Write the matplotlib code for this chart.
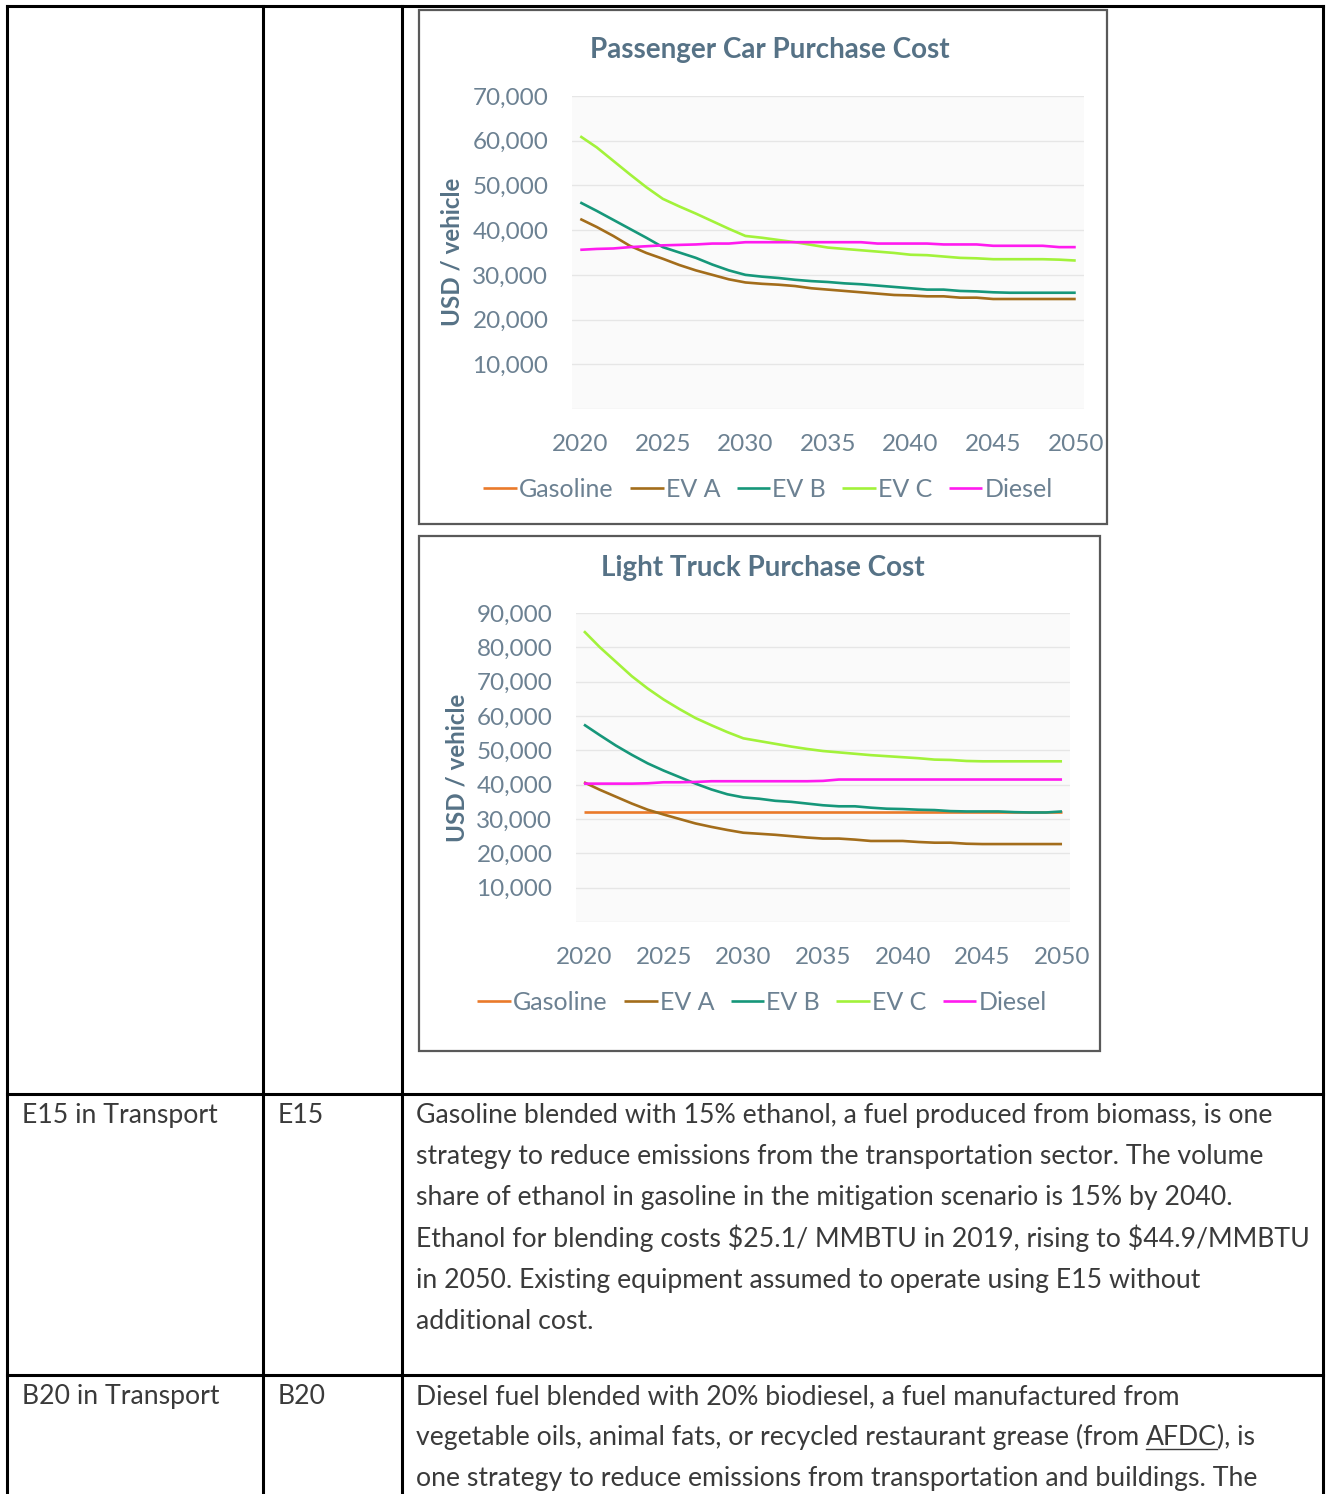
import matplotlib.pyplot as plt
from matplotlib.patches import Rectangle
from matplotlib.lines import Line2D
from matplotlib.ticker import FuncFormatter

W, H = 1329, 1494

years = list(range(2020, 2051))
series_names = ['Gasoline', 'EV A', 'EV B', 'EV C', 'Diesel']

# Passenger car purchase cost (USD / vehicle) - gasoline line is not visible in the source
pc_gasoline = []
pc_ev_a = [42500, 40700, 38700, 36500, 34900, 33600, 32200, 31000, 30000, 29000,
           28300, 28000, 27800, 27500, 27000, 26700, 26400, 26100, 25800, 25500,
           25400, 25200, 25200, 24900, 24900, 24600, 24600, 24600, 24600, 24600, 24600]
pc_ev_b = [46200, 44300, 42300, 40300, 38300, 36200, 35000, 33800, 32300, 31000,
           30000, 29600, 29300, 28900, 28600, 28400, 28100, 27900, 27600, 27300,
           27000, 26700, 26700, 26400, 26300, 26100, 26000, 26000, 26000, 26000, 26000]
pc_ev_c = [61000, 58500, 55500, 52500, 49600, 47000, 45300, 43700, 42000, 40300,
           38700, 38300, 37800, 37300, 36700, 36100, 35800, 35500, 35200, 34900,
           34500, 34400, 34100, 33800, 33700, 33500, 33500, 33500, 33500, 33400, 33200]
pc_diesel = [35600, 35800, 35900, 36200, 36400, 36600, 36700, 36800, 37000, 37000,
             37300, 37300, 37300, 37300, 37300, 37300, 37300, 37300, 37000, 37000,
             37000, 37000, 36800, 36800, 36800, 36500, 36500, 36500, 36500, 36200, 36200]

# Light truck purchase cost (USD / vehicle)
lt_gasoline = [31900, 31900, 31900, 31900, 31900, 31900, 31900, 31900, 31900, 31900,
               31900, 31900, 31900, 31900, 31900, 31900, 31900, 31900, 31900, 31900,
               31900, 31900, 31900, 31900, 31900, 31900, 31900, 31900, 31900, 31900, 31900]
lt_ev_a = [40700, 38500, 36500, 34500, 32700, 31300, 30000, 28700, 27700, 26800,
           26000, 25700, 25400, 25000, 24600, 24300, 24300, 24000, 23600, 23600,
           23600, 23300, 23100, 23100, 22800, 22700, 22700, 22700, 22700, 22700, 22700]
lt_ev_b = [57500, 54400, 51400, 48700, 46200, 44100, 42200, 40300, 38600, 37200,
           36300, 35900, 35300, 35000, 34500, 34000, 33700, 33700, 33300, 33000,
           32900, 32700, 32600, 32300, 32200, 32200, 32200, 32000, 31900, 31900, 32200]
lt_ev_c = [84700, 80000, 75800, 71600, 68000, 64800, 62000, 59400, 57300, 55300,
           53500, 52700, 51900, 51100, 50400, 49800, 49400, 49000, 48600, 48300,
           48000, 47700, 47300, 47200, 46900, 46800, 46800, 46800, 46800, 46800, 46800]
lt_diesel = [40300, 40300, 40300, 40300, 40400, 40700, 40700, 40800, 41000, 41000,
             41000, 41000, 41000, 41000, 41000, 41100, 41500, 41500, 41500, 41500,
             41500, 41500, 41500, 41500, 41500, 41500, 41500, 41500, 41500, 41500, 41500]

colors = ['#EA7A2A', '#A36D1B', '#16977A', '#A2F23A', '#FF1BEF']

e15_lines = [
    "Gasoline blended with 15% ethanol, a fuel produced from biomass, is one",
    "strategy to reduce emissions from the transportation sector. The volume",
    "share of ethanol in gasoline in the mitigation scenario is 15% by 2040.",
    "Ethanol for blending costs $25.1/ MMBTU in 2019, rising to $44.9/MMBTU",
    "in 2050. Existing equipment assumed to operate using E15 without",
    "additional cost.",
]
b20_lines = [
    "Diesel fuel blended with 20% biodiesel, a fuel manufactured from",
    ("vegetable oils, animal fats, or recycled restaurant grease (from ", "AFDC", "), is"),
    "one strategy to reduce emissions from transportation and buildings. The",
]

FONT = 'Lato'
TEXT_COL = '#3a3a3a'
TICK_COL = '#6c8192'
TITLE_COL = '#567286'

plt.rcParams['font.family'] = [FONT, 'DejaVu Sans']

fig = plt.figure(figsize=(W / 100, H / 100), dpi=100)
bg = fig.add_axes([0, 0, 1, 1], zorder=0)
bg.set_xlim(0, W)
bg.set_ylim(H, 0)
bg.axis('off')

# table grid
lw_tab = 2.2
for x in [7, 263, 402, 1323]:
    bg.add_line(Line2D([x, x], [6, H], color='black', lw=lw_tab))
for y in [6, 1094, 1375]:
    bg.add_line(Line2D([7, 1323], [y, y], color='black', lw=lw_tab))


def px_axes(x0, y0, x1, y1):
    return fig.add_axes([x0 / W, 1 - y1 / H, (x1 - x0) / W, (y1 - y0) / H], zorder=2)


def draw_chart(box, plot, title, title_xy, ylab_xy, ymax, data, legend_xy):
    bx0, by0, bx1, by1 = box
    bg.add_patch(Rectangle((bx0, by0), bx1 - bx0, by1 - by0, fill=False,
                           edgecolor='#595959', lw=1.6, zorder=3))
    bg.text(title_xy[0], title_xy[1], title, ha='center', va='center',
            fontsize=20, fontweight='bold', color=TITLE_COL)
    bg.text(ylab_xy[0], ylab_xy[1], 'USD / vehicle', ha='center', va='center',
            rotation=90, fontsize=17.4, fontweight='bold', color=TITLE_COL)
    ax = px_axes(*plot)
    ax.set_facecolor('#fafafa')
    handles = []
    for name, vals, col in zip(series_names, data, colors):
        h, = ax.plot(years[:len(vals)], vals, color=col, lw=1.9, solid_capstyle='butt')
        h.set_label(name)
        handles.append(h)
    ax.set_xlim(2019.5, 2050.5)
    ax.set_ylim(0, ymax)
    ax.set_yticks(range(0, ymax + 1, 10000))
    ax.yaxis.set_major_formatter(FuncFormatter(lambda v, p: '' if v == 0 else f'{int(v):,}'))
    ax.set_xticks(range(2020, 2051, 5))
    ax.grid(axis='y', color='#e6e6e6', lw=1.0)
    ax.set_axisbelow(True)
    for s in ax.spines.values():
        s.set_visible(False)
    ax.tick_params(length=0, labelsize=17.5, labelcolor=TICK_COL)
    ax.tick_params(axis='y', pad=17)
    ax.tick_params(axis='x', pad=18)
    fig.legend(handles=handles, loc='center', bbox_to_anchor=(legend_xy[0] / W, 1 - legend_xy[1] / H),
               ncol=5, frameon=False, fontsize=18, labelcolor=TICK_COL,
               handlelength=1.35, handletextpad=0.08, columnspacing=0.65)
    return ax


draw_chart((419, 10, 1107, 524), (572, 96, 1084, 409), 'Passenger Car Purchase Cost',
           (770, 50), (452, 252), 70000,
           [pc_gasoline, pc_ev_a, pc_ev_b, pc_ev_c, pc_diesel], (768, 489))
draw_chart((419, 536, 1100, 1051), (576, 613, 1070, 922), 'Light Truck Purchase Cost',
           (763, 568), (457, 768), 90000,
           [lt_gasoline, lt_ev_a, lt_ev_b, lt_ev_c, lt_diesel], (762, 1002))

# table text
FS = 19.2
step = 41.2
y_e15 = 1123
y_b20 = 1404
bg.text(22, y_e15, 'E15 in Transport', fontsize=FS, color=TEXT_COL, va='baseline')
bg.text(278, y_e15, 'E15', fontsize=FS, color=TEXT_COL, va='baseline')
for i, line in enumerate(e15_lines):
    bg.text(416, y_e15 + i * step, line, fontsize=FS, color=TEXT_COL, va='baseline', parse_math=False)

bg.text(22, y_b20, 'B20 in Transport', fontsize=FS, color=TEXT_COL, va='baseline')
bg.text(278, y_b20, 'B20', fontsize=FS, color=TEXT_COL, va='baseline')
renderer = fig.canvas.get_renderer()
for i, line in enumerate(b20_lines):
    y = y_b20 + i * step
    if isinstance(line, tuple):
        x = 416
        for j, part in enumerate(line):
            t = bg.text(x, y, part, fontsize=FS, color=TEXT_COL, va='baseline', parse_math=False)
            ext = t.get_window_extent(renderer).transformed(bg.transData.inverted())
            x0, x1 = min(ext.x0, ext.x1), max(ext.x0, ext.x1)
            if j == 1:
                bg.add_line(Line2D([x0, x1], [y + 4, y + 4], color=TEXT_COL, lw=1.0))
            x = x1
    else:
        bg.text(416, y, line, fontsize=FS, color=TEXT_COL, va='baseline', parse_math=False)

fig.savefig('out.png', dpi=100, facecolor='white')
